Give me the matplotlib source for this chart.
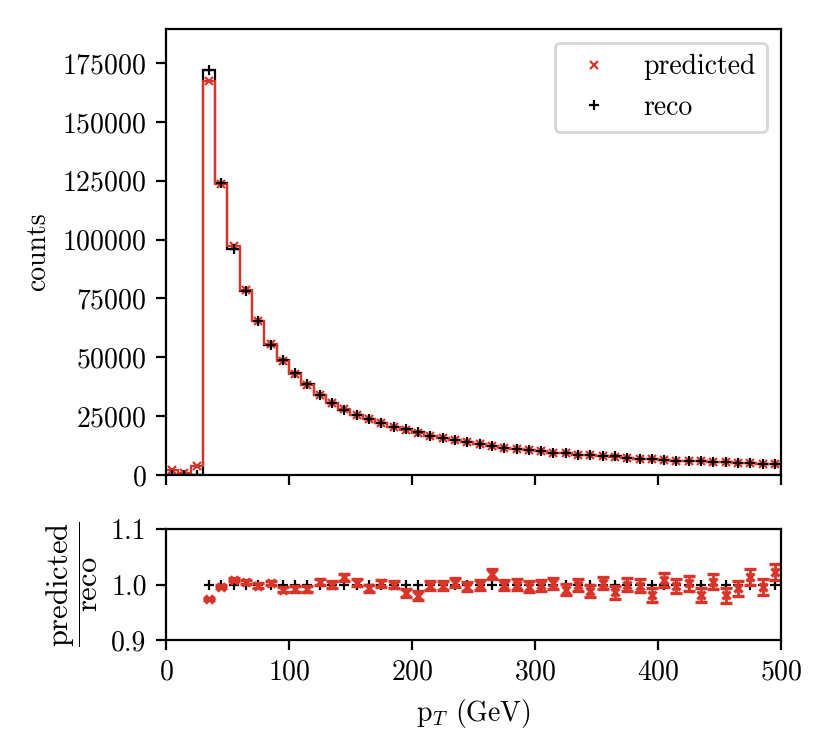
import numpy as np
import matplotlib
matplotlib.use("Agg")
import matplotlib.pyplot as plt

plt.rcParams.update({
    "font.family": "serif", "font.serif": ["cmr10"], "mathtext.fontset": "cm",
    "axes.formatter.use_mathtext": True, "font.size": 10,
    "axes.linewidth": 0.8,
})

# bin edges 0..500 GeV, 10 GeV wide
edges = np.arange(0, 510, 10)
centers = edges[:-1] + 5

reco = np.array([
    0, 0, 0, 172000, 124000, 96200, 78300, 65500, 55400, 48900,
    43200, 38500, 33800, 30700, 27600, 25500, 23800, 21900, 20500, 19400,
    18300, 16700, 15600, 14650, 13950, 13200, 12100, 11600, 11050, 10650,
    10200, 9500, 9300, 8600, 8450, 8050, 7900, 7350, 6900, 6800,
    6320, 6090, 5940, 5900, 5480, 5500, 5130, 4900, 4820, 4450,
])
predicted = np.array([
    2000, 700, 3800, 167500, 123500, 97100, 78600, 65400, 55600, 48450,
    42850, 38200, 34000, 30700, 27950, 25600, 23650, 21950, 20500, 19100,
    17950, 16650, 15550, 14700, 13900, 13200, 12350, 11600, 11050, 10600,
    10200, 9520, 9220, 8600, 8350, 8070, 7800, 7350, 6890, 6670,
    6370, 6080, 5950, 5790, 5510, 5400, 5100, 4960, 4800, 4550,
])
ratio = np.array([
    np.nan, np.nan, np.nan, 0.974, 0.996, 1.009, 1.004, 0.998, 1.003, 0.991,
    0.992, 0.992, 1.005, 1.000, 1.013, 1.003, 0.993, 1.002, 1.000, 0.985,
    0.980, 0.998, 0.998, 1.003, 0.996, 0.999, 1.019, 0.999, 1.000, 0.996,
    0.999, 1.002, 0.991, 1.000, 0.988, 1.003, 0.986, 1.000, 0.998, 0.981,
    1.008, 0.998, 1.002, 0.981, 1.005, 0.981, 0.993, 1.013, 0.996, 1.023,
])
ratio_err = np.array([
    np.nan, np.nan, np.nan, 0.0024, 0.0028, 0.0032, 0.0036, 0.0039, 0.0042, 0.0045,
    0.0048, 0.0051, 0.0054, 0.0057, 0.0060, 0.0062, 0.0065, 0.0068, 0.0070, 0.0072,
    0.0075, 0.0077, 0.0080, 0.0082, 0.0085, 0.0087, 0.0090, 0.0093, 0.0095, 0.0097,
    0.0099, 0.0103, 0.0104, 0.0108, 0.0110, 0.0111, 0.0113, 0.0117, 0.0120, 0.0123,
    0.0125, 0.0128, 0.0130, 0.0131, 0.0135, 0.0136, 0.0140, 0.0142, 0.0144, 0.0148,
])
reco_ratio = np.where(reco > 0, 1.0, np.nan)

RED = "#d9342a"

fig = plt.figure(figsize=(4.16, 3.76), dpi=200)
ax = fig.add_axes([0.1995, 0.3684, 0.7392, 0.593])
axr = fig.add_axes([0.1995, 0.1489, 0.7392, 0.1476])

ax.stairs(reco, edges, color="black", linewidth=0.8)
ax.stairs(predicted, edges, color=RED, linewidth=0.8)
ax.plot(centers, predicted, ls="none", marker="x", ms=3, mew=0.8, color=RED, label="predicted")
ax.plot(centers, reco, ls="none", marker="+", ms=3.5, mew=0.8, color="black", label="reco")
ax.set_xlim(0, 500)
ax.set_ylim(0, 189500)
ax.set_yticks(np.arange(0, 175001, 25000))
ax.set_xticks(np.arange(0, 501, 100))
ax.set_xticklabels([])
ax.set_ylabel("counts")
ax.legend(loc="upper right")

axr.plot(centers, reco_ratio, ls="none", marker="+", ms=3.5, mew=0.8, color="black")
axr.errorbar(centers, ratio, yerr=ratio_err, ls="none", marker="x", ms=3, mew=1.2,
             color=RED, ecolor=RED, elinewidth=1.0, capsize=2.2, capthick=0.8)
axr.set_xlim(0, 500)
axr.set_ylim(0.9, 1.1)
axr.set_yticks([0.9, 1.0, 1.1])
axr.set_yticklabels(["0.9", "1.0", "1.1"])
axr.set_xticks(np.arange(0, 501, 100))
axr.set_xlabel(r"$\mathrm{p}_T$ (GeV)")
axr.set_ylabel(r"$\dfrac{\mathrm{predicted}}{\mathrm{reco}}$", fontsize=11)

fig.savefig("out.png", dpi=200)
